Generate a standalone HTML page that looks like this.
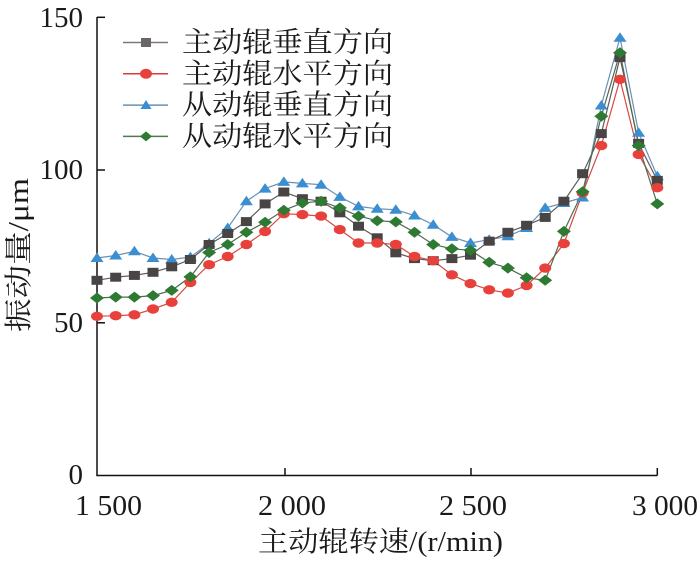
<!DOCTYPE html>
<html><head><meta charset="utf-8"><style>
html,body{margin:0;padding:0;background:#fff;}
svg{display:block;}
text{font-family:"Liberation Serif","Noto Serif CJK SC",serif;fill:#1a1a1a;}
</style></head><body>
<svg width="700" height="563" viewBox="0 0 700 563" xmlns="http://www.w3.org/2000/svg">
<defs>
<rect id="sq" x="-5.5" y="-4.5" width="11" height="9" fill="#4a4545"/>
<ellipse id="ci" cx="0" cy="0" rx="6" ry="4.7" fill="#e8413c"/>
<polygon id="tr" points="0,-5.5 6.5,4 -6.5,4" fill="#3b8ed0"/>
<polygon id="di" points="0,-5.5 7,0 0,5.5 -7,0" fill="#2e7a33"/>
</defs>

<!-- axes -->
<g stroke="#111" stroke-width="1.5" fill="none">
<line x1="97" y1="17" x2="97" y2="475.5"/>
<line x1="96.3" y1="475.5" x2="657.3" y2="475.5"/>
<line x1="97" y1="17.3" x2="105" y2="17.3"/>
<line x1="97" y1="170" x2="105" y2="170"/>
<line x1="97" y1="322.8" x2="105" y2="322.8"/>
<line x1="285" y1="475.5" x2="285" y2="468"/>
<line x1="471" y1="475.5" x2="471" y2="468"/>
<line x1="657.3" y1="475.5" x2="657.3" y2="468"/>
</g>

<!-- y tick labels -->
<g font-size="29" text-anchor="end">
<text x="83" y="27">150</text>
<text x="83" y="179">100</text>
<text x="83" y="332">50</text>
<text x="83" y="484">0</text>
</g>
<!-- x tick labels -->
<g font-size="29">
<text x="75" y="515" textLength="67" lengthAdjust="spacingAndGlyphs">1 500</text>
<text x="258" y="515" textLength="68" lengthAdjust="spacingAndGlyphs">2 000</text>
<text x="439" y="515" textLength="68" lengthAdjust="spacingAndGlyphs">2 500</text>
<text x="632" y="515" textLength="66" lengthAdjust="spacingAndGlyphs">3 000</text>
</g>

<!-- axis titles -->
<text x="258" y="551" font-size="28" textLength="245" lengthAdjust="spacingAndGlyphs">主动辊转速/(r/min)</text>
<text transform="translate(28,255) rotate(-90)" font-size="28" text-anchor="middle" textLength="154" lengthAdjust="spacingAndGlyphs">振动量/μm</text>

<!-- series lines -->
<g fill="none" stroke-width="1.2">
<polyline stroke="#6a8fb5" points="97,258 115.7,255.5 134.4,251.3 153,258 171.7,259.5 190.4,257.1 209.1,243.3 227.7,228 246.4,201.2 265.1,188.6 283.8,181.9 302.4,183.4 321.1,184.7 339.8,196.9 358.5,206.4 377.2,208.8 395.8,209.7 414.5,215.5 433.2,224.7 451.9,236.9 470.5,243 489.2,239.7 507.9,236.3 526.6,228 545.2,207.9 563.9,203 582.6,197.5 601.3,105.5 620,37.7 638.6,132.7 657.3,176.1"/>
<polyline stroke="#5e5a5a" points="97,280.3 115.7,277.2 134.4,275.4 153,272.3 171.7,266.8 190.4,259.5 209.1,244.5 227.7,233.5 246.4,221.6 265.1,203.9 283.8,192 302.4,198.7 321.1,201.2 339.8,212.8 358.5,226.2 377.2,237.8 395.8,252.8 414.5,258.6 433.2,260.7 451.9,258.6 470.5,255.2 489.2,241.2 507.9,232.3 526.6,225.3 545.2,217.4 563.9,201.2 582.6,173.7 601.3,133.6 620,57.6 638.6,143.4 657.3,180.4"/>
<polyline stroke="#d44a44" points="97,316.3 115.7,315.7 134.4,314.8 153,309 171.7,302.3 190.4,282.4 209.1,264.7 227.7,256.5 246.4,244.5 265.1,231.4 283.8,213.7 302.4,214.6 321.1,216.1 339.8,229.6 358.5,243 377.2,243 395.8,244.5 414.5,256.5 433.2,260.7 451.9,274.8 470.5,283.6 489.2,289.8 507.9,293.1 526.6,285.5 545.2,268.1 563.9,243.6 582.6,192.9 601.3,145.6 620,79.3 638.6,154.4 657.3,187.7"/>
<polyline stroke="#4f6b4f" points="97,298 115.7,297.1 134.4,297.1 153,295.6 171.7,290.4 190.4,276.9 209.1,252.5 227.7,244.5 246.4,232.3 265.1,222.2 283.8,210.3 302.4,203 321.1,201.2 339.8,207.9 358.5,216.1 377.2,220.7 395.8,221.9 414.5,232.3 433.2,244.5 451.9,248.8 470.5,250.3 489.2,262.3 507.9,268.1 526.6,277.8 545.2,280.3 563.9,231.4 582.6,191.7 601.3,116.2 620,52.7 638.6,145.6 657.3,203.9"/>
</g>

<!-- blue triangles -->
<g>
<use href="#tr" x="97" y="258"/><use href="#tr" x="115.7" y="255.5"/><use href="#tr" x="134.4" y="251.3"/><use href="#tr" x="153" y="258"/><use href="#tr" x="171.7" y="259.5"/><use href="#tr" x="190.4" y="257.1"/><use href="#tr" x="209.1" y="243.3"/><use href="#tr" x="227.7" y="228"/><use href="#tr" x="246.4" y="201.2"/><use href="#tr" x="265.1" y="188.6"/><use href="#tr" x="283.8" y="181.9"/><use href="#tr" x="302.4" y="183.4"/><use href="#tr" x="321.1" y="184.7"/><use href="#tr" x="339.8" y="196.9"/><use href="#tr" x="358.5" y="206.4"/><use href="#tr" x="377.2" y="208.8"/><use href="#tr" x="395.8" y="209.7"/><use href="#tr" x="414.5" y="215.5"/><use href="#tr" x="433.2" y="224.7"/><use href="#tr" x="451.9" y="236.9"/><use href="#tr" x="470.5" y="243"/><use href="#tr" x="489.2" y="239.7"/><use href="#tr" x="507.9" y="236.3"/><use href="#tr" x="526.6" y="228"/><use href="#tr" x="545.2" y="207.9"/><use href="#tr" x="563.9" y="203"/><use href="#tr" x="582.6" y="197.5"/><use href="#tr" x="601.3" y="105.5"/><use href="#tr" x="620" y="37.7"/><use href="#tr" x="638.6" y="132.7"/><use href="#tr" x="657.3" y="176.1"/>
</g>
<!-- squares -->
<g>
<use href="#sq" x="97" y="280.3"/><use href="#sq" x="115.7" y="277.2"/><use href="#sq" x="134.4" y="275.4"/><use href="#sq" x="153" y="272.3"/><use href="#sq" x="171.7" y="266.8"/><use href="#sq" x="190.4" y="259.5"/><use href="#sq" x="209.1" y="244.5"/><use href="#sq" x="227.7" y="233.5"/><use href="#sq" x="246.4" y="221.6"/><use href="#sq" x="265.1" y="203.9"/><use href="#sq" x="283.8" y="192"/><use href="#sq" x="302.4" y="198.7"/><use href="#sq" x="321.1" y="201.2"/><use href="#sq" x="339.8" y="212.8"/><use href="#sq" x="358.5" y="226.2"/><use href="#sq" x="377.2" y="237.8"/><use href="#sq" x="395.8" y="252.8"/><use href="#sq" x="414.5" y="258.6"/><use href="#sq" x="433.2" y="260.7"/><use href="#sq" x="451.9" y="258.6"/><use href="#sq" x="470.5" y="255.2"/><use href="#sq" x="489.2" y="241.2"/><use href="#sq" x="507.9" y="232.3"/><use href="#sq" x="526.6" y="225.3"/><use href="#sq" x="545.2" y="217.4"/><use href="#sq" x="563.9" y="201.2"/><use href="#sq" x="582.6" y="173.7"/><use href="#sq" x="601.3" y="133.6"/><use href="#sq" x="620" y="57.6"/><use href="#sq" x="638.6" y="143.4"/><use href="#sq" x="657.3" y="180.4"/>
</g>
<!-- red circles -->
<g>
<use href="#ci" x="97" y="316.3"/><use href="#ci" x="115.7" y="315.7"/><use href="#ci" x="134.4" y="314.8"/><use href="#ci" x="153" y="309"/><use href="#ci" x="171.7" y="302.3"/><use href="#ci" x="190.4" y="282.4"/><use href="#ci" x="209.1" y="264.7"/><use href="#ci" x="227.7" y="256.5"/><use href="#ci" x="246.4" y="244.5"/><use href="#ci" x="265.1" y="231.4"/><use href="#ci" x="283.8" y="213.7"/><use href="#ci" x="302.4" y="214.6"/><use href="#ci" x="321.1" y="216.1"/><use href="#ci" x="339.8" y="229.6"/><use href="#ci" x="358.5" y="243"/><use href="#ci" x="377.2" y="243"/><use href="#ci" x="395.8" y="244.5"/><use href="#ci" x="414.5" y="256.5"/><use href="#ci" x="433.2" y="260.7"/><use href="#ci" x="451.9" y="274.8"/><use href="#ci" x="470.5" y="283.6"/><use href="#ci" x="489.2" y="289.8"/><use href="#ci" x="507.9" y="293.1"/><use href="#ci" x="526.6" y="285.5"/><use href="#ci" x="545.2" y="268.1"/><use href="#ci" x="563.9" y="243.6"/><use href="#ci" x="582.6" y="192.9"/><use href="#ci" x="601.3" y="145.6"/><use href="#ci" x="620" y="79.3"/><use href="#ci" x="638.6" y="154.4"/><use href="#ci" x="657.3" y="187.7"/>
</g>
<!-- green diamonds -->
<g>
<use href="#di" x="97" y="298"/><use href="#di" x="115.7" y="297.1"/><use href="#di" x="134.4" y="297.1"/><use href="#di" x="153" y="295.6"/><use href="#di" x="171.7" y="290.4"/><use href="#di" x="190.4" y="276.9"/><use href="#di" x="209.1" y="252.5"/><use href="#di" x="227.7" y="244.5"/><use href="#di" x="246.4" y="232.3"/><use href="#di" x="265.1" y="222.2"/><use href="#di" x="283.8" y="210.3"/><use href="#di" x="302.4" y="203"/><use href="#di" x="321.1" y="201.2"/><use href="#di" x="339.8" y="207.9"/><use href="#di" x="358.5" y="216.1"/><use href="#di" x="377.2" y="220.7"/><use href="#di" x="395.8" y="221.9"/><use href="#di" x="414.5" y="232.3"/><use href="#di" x="433.2" y="244.5"/><use href="#di" x="451.9" y="248.8"/><use href="#di" x="470.5" y="250.3"/><use href="#di" x="489.2" y="262.3"/><use href="#di" x="507.9" y="268.1"/><use href="#di" x="526.6" y="277.8"/><use href="#di" x="545.2" y="280.3"/><use href="#di" x="563.9" y="231.4"/><use href="#di" x="582.6" y="191.7"/><use href="#di" x="601.3" y="116.2"/><use href="#di" x="620" y="52.7"/><use href="#di" x="638.6" y="145.6"/><use href="#di" x="657.3" y="203.9"/>
</g>

<!-- legend -->
<g stroke-width="1.5">
<line x1="123" y1="42.5" x2="168" y2="42.5" stroke="#7a7a7a"/>
<line x1="123" y1="73.8" x2="168" y2="73.8" stroke="#e03a35"/>
<line x1="123" y1="105.1" x2="168" y2="105.1" stroke="#6a8fb5"/>
<line x1="123" y1="136.4" x2="168" y2="136.4" stroke="#4f7a4f"/>
</g>
<rect x="141" y="38" width="10" height="9" fill="#6b6666"/>
<ellipse cx="146" cy="73.8" rx="6" ry="5" fill="#e8413c"/>
<polygon points="146,100 151.5,109 140.5,109" fill="#3b8ed0"/>
<polygon points="146,131.4 152,136.4 146,141.4 140,136.4" fill="#2e7a33"/>
<g font-size="28">
<text x="182" y="51.5" textLength="211" lengthAdjust="spacingAndGlyphs">主动辊垂直方向</text>
<text x="182" y="82.8" textLength="211" lengthAdjust="spacingAndGlyphs">主动辊水平方向</text>
<text x="182" y="114.1" textLength="211" lengthAdjust="spacingAndGlyphs">从动辊垂直方向</text>
<text x="182" y="145.4" textLength="211" lengthAdjust="spacingAndGlyphs">从动辊水平方向</text>
</g>
</svg>
</body></html>
